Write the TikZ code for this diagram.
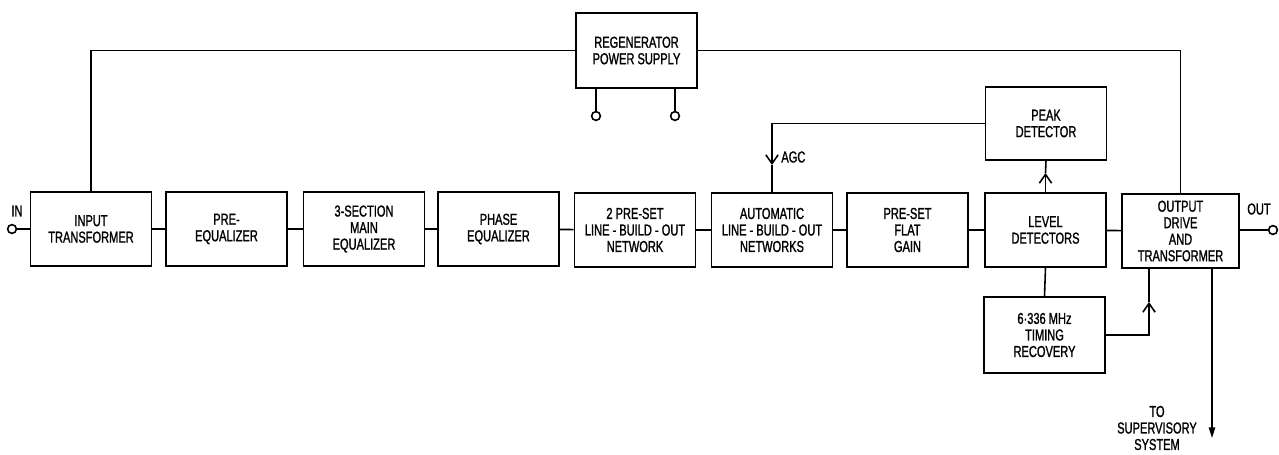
\documentclass[tikz,border=0pt]{standalone}
\usepackage{fontspec}
\setmainfont{Liberation Sans}[FakeStretch=0.7,FakeBold=1.2]
\usepackage{tikz}
\usetikzlibrary{arrows.meta}

\tikzset{
  blk/.style={draw, line width=0.9pt, minimum width=2.42cm, minimum height=1.48cm,
    align=center, inner sep=1pt, font=\fontsize{9}{9.4}\selectfont},
  lbl/.style={align=center, inner sep=0pt, font=\fontsize{9}{9.4}\selectfont},
  wire/.style={line width=0.9pt},
  barb/.style={-{Straight Barb[length=5pt,width=7pt]}},
  term/.style={circle, draw, line width=0.9pt, minimum size=5pt, inner sep=0pt, fill=white}
}

\begin{document}
\begin{tikzpicture}[x=0.02cm, y=-0.02cm]

\useasboundingbox (0,0) rectangle (1279,454);

% --- Main signal path ---
\node[blk] (inp)    at (91,229)   {INPUT\\TRANSFORMER};
\node[blk] (preq)   at (226.5,229) {PRE-\\EQUALIZER};
\node[blk] (mainq)  at (364,229)  {3-SECTION\\MAIN\\EQUALIZER};
\node[blk] (phase)  at (498.5,229) {PHASE\\EQUALIZER};
\node[blk] (lbo)    at (635,230)  {2 PRE-SET\\LINE - BUILD - OUT\\NETWORK};
\node[blk] (albo)   at (772,230)  {AUTOMATIC\\LINE - BUILD - OUT\\NETWORKS};
\node[blk] (flat)   at (907.5,230) {PRE-SET\\FLAT\\GAIN};
\node[blk] (level)  at (1045.5,230) {LEVEL\\DETECTORS};
\node[blk, minimum width=2.34cm] (outdrv) at (1180.5,231) {OUTPUT\\DRIVE\\AND\\TRANSFORMER};

\draw[wire] (inp) -- (preq);
\draw[wire] (preq) -- (mainq);
\draw[wire] (mainq) -- (phase);
\draw[wire] (phase) -- (lbo);
\draw[wire] (lbo) -- (albo);
\draw[wire] (albo) -- (flat);
\draw[wire] (flat) -- (level);
\draw[wire] (level) -- (outdrv);

% --- In and out terminals ---
\node[term] (tin)  at (12,229)   {};
\node[term] (tout) at (1273,230) {};
\node[lbl] (inlbl)  at (17,211)   {IN};
\node[lbl] (outlbl) at (1259,209) {OUT};
\draw[wire] (tin) -- (inp.west |- tin);
\draw[wire] (outdrv.east |- tout) -- (tout);

% --- Power supply ---
\node[blk, minimum height=1.5cm] (regen) at (636.5,50.5) {REGENERATOR\\POWER SUPPLY};
\draw[wire] (inp.north) |- (regen.west);
\draw[wire] (regen.east) -| (outdrv.north);
\node[term] (ps1) at (596,116) {};
\node[term] (ps2) at (675,116) {};
\draw[wire] (regen.south -| ps1) -- (ps1);
\draw[wire] (regen.south -| ps2) -- (ps2);

% --- AGC loop ---
\node[blk, minimum height=1.46cm] (peak) at (1046,123.5) {PEAK\\DETECTOR};
\coordinate (agc) at (772,165);
\coordinate (pk) at (1045.5,173);
\draw[wire, barb] (peak.west) -| (agc);
\draw[wire] (agc) -- (albo.north);
\node[lbl, anchor=west] (agclbl) at (781,157) {AGC};
\draw[wire, barb] (level.north) -- (pk);
\draw[wire] (pk) -- (peak.south);

% --- Timing recovery ---
\node[blk, minimum height=1.52cm] (timing) at (1044.5,335) {6·336 MHz\\TIMING\\RECOVERY};
\coordinate (tm) at (1149,302);
\draw[wire] (level.south) -- (timing.north);
\draw[wire, barb] (timing.east) -| (tm);
\draw[wire] (tm) -- (tm |- outdrv.south);

% --- Supervisory output ---
\coordinate (sup) at (1212,438);
\draw[wire, -{Triangle[length=6pt,width=3.6pt]}] (outdrv.south -| sup) -- (sup);
\node[lbl] (suplbl) at (1157,428) {TO\\SUPERVISORY\\SYSTEM};

\end{tikzpicture}
\end{document}
